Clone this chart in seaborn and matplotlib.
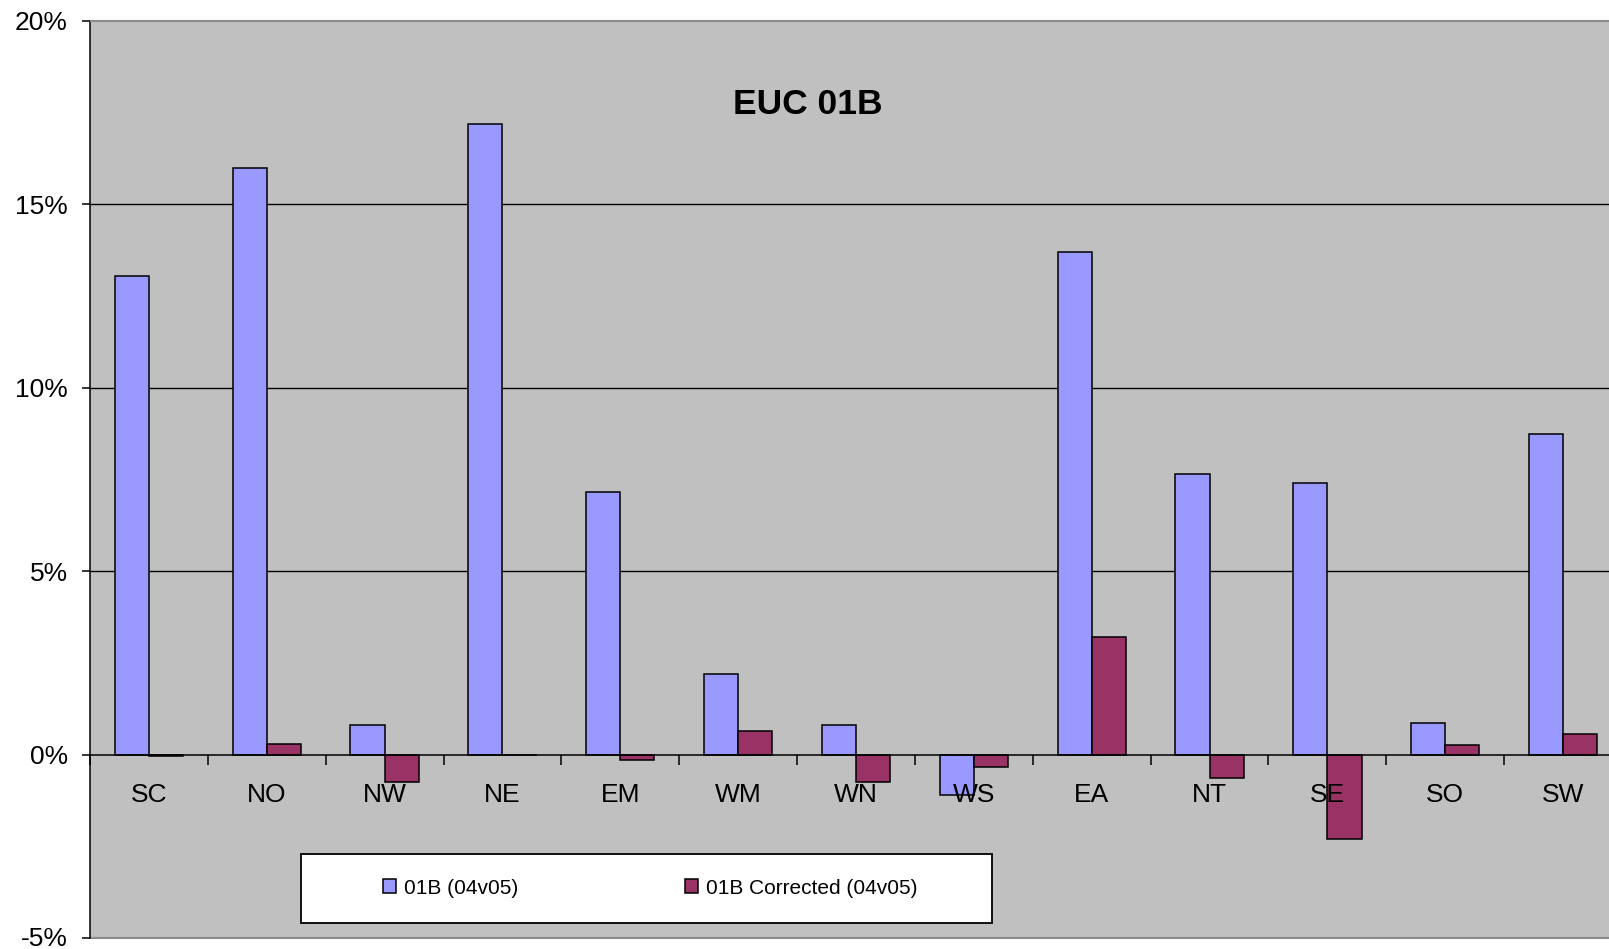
import numpy as np
import pandas as pd
import matplotlib
matplotlib.use('Agg')
import matplotlib.pyplot as plt
import seaborn as sns
from matplotlib.patches import Rectangle
from matplotlib.ticker import FuncFormatter
from matplotlib.transforms import ScaledTranslation

# data (percent)
regions = ['SC', 'NO', 'NW', 'NE', 'EM', 'WM', 'WN', 'WS', 'EA', 'NT', 'SE', 'SO', 'SW']
series = ['01B (04v05)', '01B Corrected (04v05)']
base = [13.05, 16.0, 0.8, 17.2, 7.15, 2.2, 0.8, -1.1, 13.7, 7.65, 7.4, 0.85, 8.75]
corrected = [-0.05, 0.3, -0.75, 0.0, -0.15, 0.65, -0.75, -0.35, 3.2, -0.65, -2.3, 0.25, 0.55]
yticks = [-5, 0, 5, 10, 15, 20]
gridlevels = [5, 10, 15]
colours = ['#9999FF', '#993366']

df = pd.DataFrame({
    'region': regions * 2,
    'series': [series[0]] * len(regions) + [series[1]] * len(regions),
    'value': base + corrected,
})

sns.set_style('white')
plt.rcParams['font.family'] = ['Liberation Sans', 'DejaVu Sans']
plt.rcParams['text.color'] = 'black'
plt.rcParams['xtick.color'] = 'black'
plt.rcParams['ytick.color'] = 'black'

W, H = 1609, 949
fig = plt.figure(figsize=(W / 100, H / 100), dpi=100)
# plot area runs past the right edge of the picture, like the original
ax = fig.add_axes([90 / W, 11 / H, 1532 / W, 917 / H])
ax.set_facecolor('#C0C0C0')
ax.set_axisbelow(False)

for y in gridlevels:
    ax.axhline(y, color='black', lw=1.0, zorder=0.5)

sns.barplot(data=df, x='region', y='value', hue='series', palette=colours,
            saturation=1, width=0.58, edgecolor='black', linewidth=1.1,
            ax=ax, legend=False, zorder=2)

ax.set_xlim(-0.5, len(regions) - 0.5)
ax.set_ylim(yticks[0], yticks[-1])
ax.set_xlabel('')
ax.set_ylabel('')

# axes lines
ax.spines['left'].set_color('black')
ax.spines['left'].set_linewidth(1.1)
ax.spines['bottom'].set_position(('data', 0))
ax.spines['bottom'].set_color('black')
ax.spines['bottom'].set_linewidth(1.1)
ax.spines['bottom'].set_zorder(3)
ax.spines['top'].set_color('#8a8a8a')
ax.spines['top'].set_linewidth(1.5)
ax.spines['right'].set_visible(False)
ax.axhline(yticks[0], color='#8a8a8a', lw=1.5, clip_on=False)

# y axis
ax.set_yticks(yticks)
ax.yaxis.set_major_formatter(FuncFormatter(lambda v, p: '%d%%' % v))
ax.tick_params(axis='y', direction='out', length=6, width=1.1,
               labelsize=19, pad=10, left=True)
# bottom label sits right on the picture edge, lift it a touch
lowest = ax.yaxis.get_major_ticks()[0].label1
lowest.set_transform(lowest.get_transform() + ScaledTranslation(0, 2 / 100, fig.dpi_scale_trans))

# x axis: labels under category centres, ticks between categories
ax.set_xticks(np.arange(len(regions)))
ax.set_xticklabels(regions)
ax.set_xticks(np.arange(-0.5, len(regions), 1.0), minor=True)
ax.tick_params(axis='x', which='major', length=0, labelsize=19, pad=20.5)
ax.tick_params(axis='x', which='minor', direction='out', length=7, width=1.1,
               bottom=True)

ax.text(0.4687, 0.909, 'EUC 01B', transform=ax.transAxes, ha='center',
        va='center', fontsize=25.5, fontweight='bold')

# legend box
fig.patches.append(Rectangle((300.6 / W, 26.5 / H), 691.4 / W, 68.9 / H,
                             transform=fig.transFigure, facecolor='white',
                             edgecolor='black', lw=1.3, zorder=3))
handles = [Rectangle((0, 0), 1, 1, facecolor=c, edgecolor='black', lw=1.1)
           for c in colours]
fig.legend(handles, series, loc='center', bbox_to_anchor=(650 / W, 1 - 888 / H),
           ncol=2, frameon=False, fontsize=15, handlelength=0.65,
           handleheight=0.65, handletextpad=0.35, columnspacing=8.0)

fig.savefig('out.png', dpi=100)
